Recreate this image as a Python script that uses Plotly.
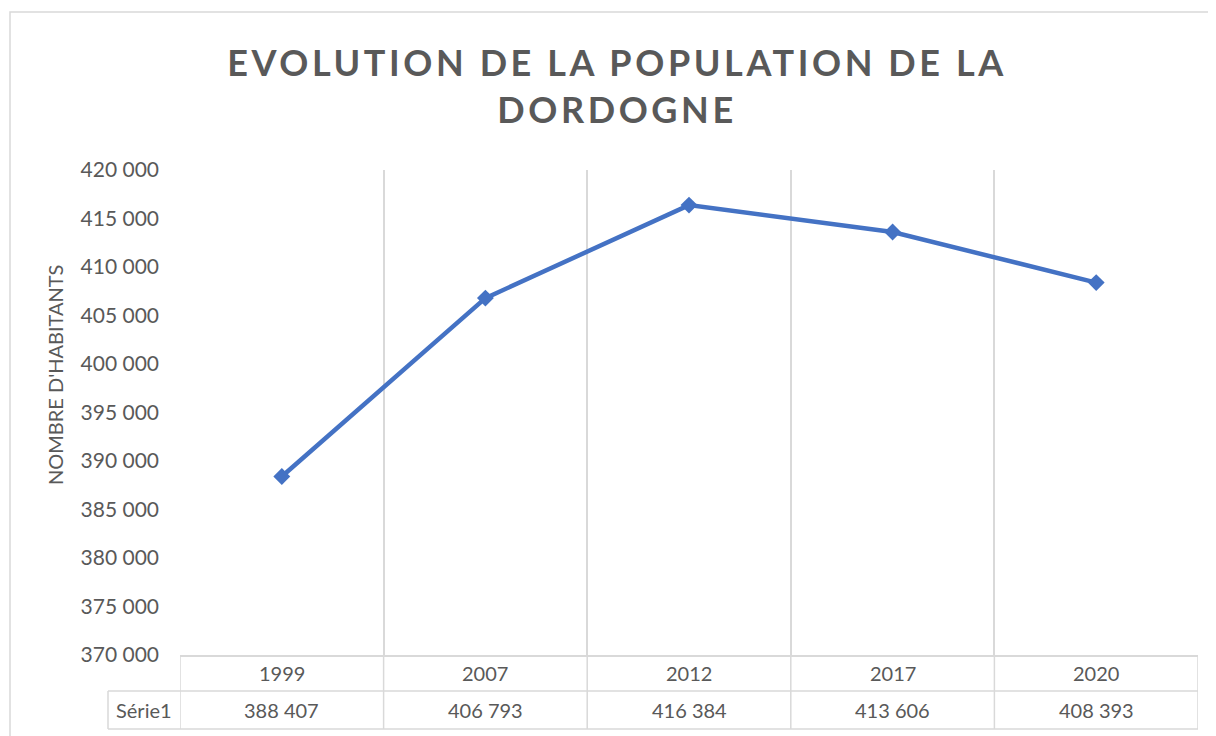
import plotly.graph_objects as go

# ---- data ----
categories = ["1999", "2007", "2012", "2017", "2020"]
population = [388407, 406793, 416384, 413606, 408393]
series_name = "Série1"
title_lines = ["EVOLUTION DE LA POPULATION DE LA", "DORDOGNE"]
y_title = "NOMBRE D'HABITANTS"

OFF = 8  # page body margin
W, H = 1216 - OFF, 736 - OFF
L, R, T, B = 180 - OFF, 1198 - OFF, 170 - OFF, 655 - OFF
pw, ph = R - L, B - T

TEXT = "#595959"
GRID = "#d9d9d9"
BLUE = "#4472C4"
FONT = "Lato"

def px_x(px):
    return (px - OFF - L) / pw

def px_y(py):
    return (B - (py - OFF)) / ph

n = len(categories)
xs = list(range(n))
bounds = [i - 0.5 for i in range(n + 1)]

fig = go.Figure()
fig.add_trace(go.Scatter(
    x=xs, y=population, mode="lines+markers", name=series_name,
    line=dict(color=BLUE, width=4.5),
    marker=dict(symbol="diamond", size=13, color=BLUE),
    showlegend=False, cliponaxis=False,
))

title_html = "<br>".join(
    f'<span style="letter-spacing:3.6px">{t}</span>' for t in title_lines)

shapes = []
annotations = []

# outer chart border
shapes.append(dict(type="rect", xref="paper", yref="paper",
                   x0=px_x(10), x1=px_x(1240), y0=px_y(760), y1=px_y(12),
                   line=dict(color=GRID, width=1.5), layer="below"))

row1_bot = px_y(691)
row2_bot = px_y(729)
for b in bounds:
    shapes.append(dict(type="line", xref="x", yref="paper",
                       x0=b, x1=b, y0=0, y1=row2_bot,
                       line=dict(color=GRID, width=1.5)))
shapes.append(dict(type="line", xref="paper", yref="paper",
                   x0=px_x(108), x1=1, y0=row1_bot, y1=row1_bot,
                   line=dict(color=GRID, width=1.5)))
shapes.append(dict(type="line", xref="paper", yref="paper",
                   x0=px_x(108), x1=1, y0=row2_bot, y1=row2_bot,
                   line=dict(color=GRID, width=1.5)))
shapes.append(dict(type="line", xref="paper", yref="paper",
                   x0=px_x(108), x1=px_x(108), y0=row1_bot, y1=row2_bot,
                   line=dict(color=GRID, width=1.5)))

for i, (c, v) in enumerate(zip(categories, population)):
    annotations.append(dict(x=i, y=px_y(673), xref="x", yref="paper",
                            xanchor="center", yanchor="middle",
                            text=c, showarrow=False,
                            font=dict(family=FONT, size=20, color=TEXT)))
    annotations.append(dict(x=i, y=px_y(710), xref="x", yref="paper",
                            xanchor="center", yanchor="middle",
                            text=f"{v:,}".replace(",", " "), showarrow=False,
                            font=dict(family=FONT, size=20, color=TEXT)))
annotations.append(dict(x=px_x(144), y=px_y(710), xref="paper", yref="paper",
                        xanchor="center", yanchor="middle",
                        text=series_name, showarrow=False,
                        font=dict(family=FONT, size=20, color=TEXT)))
annotations.append(dict(x=px_x(55), y=px_y(375), xref="paper", yref="paper",
                        xanchor="center", yanchor="middle",
                        text=y_title, textangle=-90, showarrow=False,
                        font=dict(family=FONT, size=20, color=TEXT)))

fig.update_layout(
    width=W, height=H,
    margin=dict(l=L, r=W - R, t=T, b=H - B, pad=0),
    paper_bgcolor="white", plot_bgcolor="white",
    separators=", ",
    title=dict(text=title_html, x=(617 - OFF) / W, xanchor="center",
               y=1 - (76 - OFF) / H, yanchor="middle", yref="container",
               font=dict(family=FONT, size=36, color=TEXT, weight="bold")),
    xaxis=dict(range=[-0.5, n - 0.5], tickvals=bounds, showticklabels=False,
               showgrid=True, gridcolor=GRID, gridwidth=1.5,
               zeroline=False, showline=True, linecolor=GRID, linewidth=1.5,
               ticks=""),
    yaxis=dict(range=[370000, 420000], dtick=5000, tick0=370000,
               tickformat=",d", showgrid=False, zeroline=False,
               showline=False, ticks="", ticklabelstandoff=20,
               tickfont=dict(family=FONT, size=21, color=TEXT)),
    shapes=shapes, annotations=annotations,
)

fig.write_html("out.html")
